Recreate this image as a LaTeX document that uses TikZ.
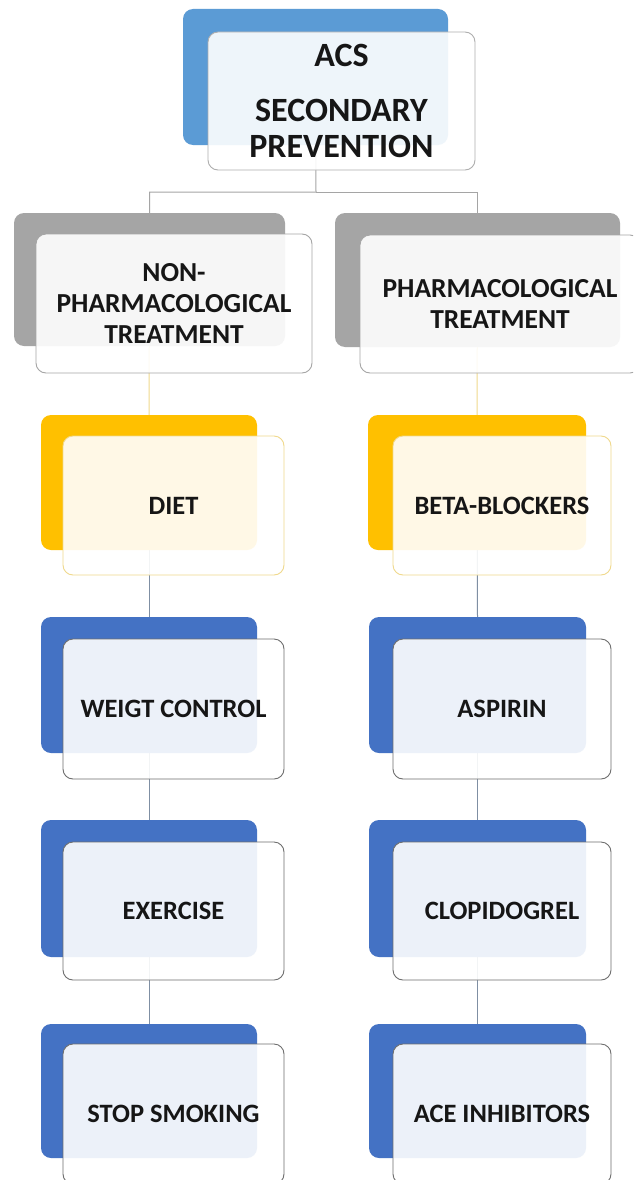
\documentclass[tikz,border=0pt]{standalone}
\usepackage{fontspec}
\setmainfont{Carlito}
\definecolor{topblue}{HTML}{5B9BD5}
\definecolor{midgray}{HTML}{A5A5A5}
\definecolor{gold}{HTML}{FFC000}
\definecolor{darkblue}{HTML}{4472C4}
\definecolor{txt}{HTML}{161616}
\definecolor{lgold}{HTML}{F0D98C}
\definecolor{conn}{HTML}{7F8FA3}
\definecolor{frameg}{HTML}{6E6E6E}
\pgfdeclarelayer{bg}
\pgfsetlayers{bg,main}
\tikzset{
  backbox/.style={rounded corners=10pt, inner sep=0pt, outer sep=0pt, anchor=north west, draw=none},
  frontbox/.style={rounded corners=10pt, inner sep=0pt, outer sep=0pt, anchor=north west,
    fill=white, fill opacity=0.9, text opacity=1, text=txt, align=center, line width=0.9pt},
  itemfont/.style={font=\bfseries\fontsize{26.5}{31}\selectfont},
  catfont/.style={font=\bfseries\fontsize{27.5}{31}\selectfont},
  topfont/.style={font=\bfseries\fontsize{34}{36}\selectfont},
  link/.style={line width=1pt},
}
\begin{document}
\begin{tikzpicture}[x=1pt,y=-1pt]
\clip (0,0) rectangle (633,1180);
% top
\node[backbox, fill=topblue, minimum width=265, minimum height=136] (topback) at (183,9) {};
\node[frontbox, draw=midgray!90, minimum width=267, minimum height=138, topfont] (topfront) at (208,32) {ACS\\[19pt]SECONDARY\\PREVENTION};
\coordinate (bus) at (316,192);
% categories
\node[backbox, fill=midgray, minimum width=271, minimum height=133] (nonback) at (14,213) {};
\node[frontbox, draw=midgray, minimum width=276, minimum height=139, catfont] (nonfront) at (36,234) {NON-\\PHARMACOLOGICAL\\TREATMENT};
\node[backbox, fill=midgray, minimum width=285, minimum height=134] (phback) at (335,213) {};
\node[frontbox, draw=midgray, minimum width=280, minimum height=138, catfont] (phfront) at (360,235) {PHARMACOLOGICAL\\TREATMENT};
% yellow
\node[backbox, fill=gold, minimum width=216, minimum height=135] (dietback) at (41,415) {};
\node[frontbox, draw=lgold, minimum width=221, minimum height=139, itemfont] (dietfront) at (63,436) {DIET};
\node[backbox, fill=gold, minimum width=218, minimum height=135] (betaback) at (368,415) {};
\node[frontbox, draw=lgold, minimum width=218, minimum height=139, itemfont] (betafront) at (393,436) {BETA-BLOCKERS};
% blue rows left
\node[backbox, fill=darkblue, minimum width=216, minimum height=136] (weightback) at (41,617) {};
\node[frontbox, draw=frameg, minimum width=221, minimum height=140, itemfont] (weightfront) at (63,639) {WEIGT CONTROL};
\node[backbox, fill=darkblue, minimum width=216, minimum height=137] (exback) at (41,820) {};
\node[frontbox, draw=frameg, minimum width=221, minimum height=138, itemfont] (exfront) at (63,842) {EXERCISE};
\node[backbox, fill=darkblue, minimum width=216, minimum height=134] (smokeback) at (41,1024) {};
\node[frontbox, draw=frameg, minimum width=221, minimum height=140, itemfont] (smokefront) at (63,1044) {STOP SMOKING};
% blue rows right
\node[backbox, fill=darkblue, minimum width=217, minimum height=136] (aspback) at (369,617) {};
\node[frontbox, draw=frameg, minimum width=218, minimum height=140, itemfont] (aspfront) at (393,639) {ASPIRIN};
\node[backbox, fill=darkblue, minimum width=217, minimum height=137] (clopback) at (369,820) {};
\node[frontbox, draw=frameg, minimum width=218, minimum height=138, itemfont] (clopfront) at (393,842) {CLOPIDOGREL};
\node[backbox, fill=darkblue, minimum width=217, minimum height=134] (aceback) at (369,1024) {};
\node[frontbox, draw=frameg, minimum width=218, minimum height=140, itemfont] (acefront) at (393,1044) {ACE INHIBITORS};
% connectors
\begin{pgfonlayer}{bg}
\fill[white] (0,0) rectangle (633,1180);
\draw[link, midgray] (topback.center) -- (bus) -| (nonback.north);
\draw[link, midgray] (bus) -| (phback.north);
\draw[link, lgold] (nonback.center) -- (dietback.north);
\draw[link, lgold] (phback.center) -- (betaback.north);
\draw[link, conn] (dietback.center) -- (weightback.north);
\draw[link, conn] (weightback.center) -- (exback.north);
\draw[link, conn] (exback.center) -- (smokeback.north);
\draw[link, conn] (betaback.center) -- (aspback.north);
\draw[link, conn] (aspback.center) -- (clopback.north);
\draw[link, conn] (clopback.center) -- (aceback.north);
\end{pgfonlayer}
\end{tikzpicture}
\end{document}
